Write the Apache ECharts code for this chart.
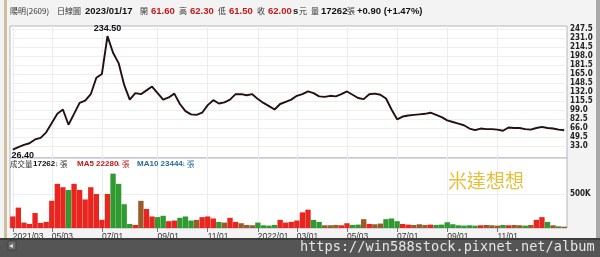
<!DOCTYPE html>
<html><head><meta charset="utf-8">
<script src="https://cdn.jsdelivr.net/npm/echarts@6/dist/echarts.min.js"></script>
<style>html,body{margin:0;padding:0;background:#f3f3f3;}#c{width:600px;height:257px;}</style>
</head><body><div id="c"></div>
<script>
// weekly samples (category index = week)
const weeks = Array.from({length: 100}, (_, i) => String(i));
const prices = [26.4,31,35,38,45,48,58,75,92,100,
  72,92,112,116,128,158,165,234.5,204,185,
  145,118,130,128,135,142,130,118,122,129,
  110,97,91,90,94,108,117,111,113,118,
  128,128,126,128,119,112,106,100,110,114,
  118,125,128,133,130,124,123,125,124,128,
  133,127,121,119,128,129,127,120,100,82,
  87,89,90,91,92,94,90,86,80,77,
  74,71,65,62,65,64,64,63,61,67,
  66,66,64,63,66,68,66,65,63,62];
const volumes = [170000,300000,80000,60000,220000,75000,90000,400000,650000,600000,
  560000,650000,560000,420000,600000,500000,120000,500000,800000,650000,
  350000,60000,45000,400000,280000,170000,160000,180000,100000,110000,
  150000,170000,110000,120000,160000,170000,140000,90000,80000,150000,
  90000,70000,45000,40000,80000,40000,35000,45000,120000,80000,
  90000,110000,230000,270000,120000,90000,40000,40000,45000,40000,
  70000,45000,50000,130000,60000,55000,65000,130000,140000,100000,
  60000,50000,45000,55000,45000,50000,45000,50000,85000,55000,
  40000,35000,40000,35000,40000,45000,40000,35000,45000,40000,
  45000,40000,35000,45000,120000,160000,90000,40000,25000,20000];
const priceTicks = [33.0,49.5,66.0,82.5,99.0,115.5,132.0,148.5,165.0,181.5,198.0,214.5,231.0,247.5];
const volTicks = [500000];
const volTickLabels = ['500K'];
const dateTickIndex = [0,7,16,26,35,44,51,60,69,78,87];
const dateTickLabels = ['2021/03','05/03','07/01','09/01','11/01','2022/01','03/01','05/03','07/01','09/01','11/01'];

const RED = '#e8261f', GREEN = '#2f9a2f', BROWN = '#9a5b2a';
const volData = volumes.map((v, i) => {
  const ch = i === 0 ? 1 : prices[i] / prices[i - 1] - 1;
  const c = ch > 0.02 ? RED : (ch < -0.02 ? GREEN : BROWN);
  return { value: v, itemStyle: { color: c } };
});
const isTick = (idx) => dateTickIndex.indexOf(idx) >= 0;
const tickLabelOf = (idx) => dateTickLabels[dateTickIndex.indexOf(idx)];

const chart = echarts.init(document.getElementById('c'), null, {renderer: 'canvas'});
const hdrFont = "'Noto Sans CJK TC', 'Noto Sans CJK SC', sans-serif";
const numFont = "'Liberation Sans', Arial, sans-serif";
function t(x, y, text, fill, size, weight, font, z) {
  return { type: 'text', x: x, y: y, z: z || 10,
    style: { text: text, fill: fill, fontSize: size, fontWeight: weight || 'normal', fontFamily: font || hdrFont, textVerticalAlign: 'middle' } };
}
const graphics = [
  { type: 'rect', shape: {x: 4, y: 0, width: 3, height: 238}, style: {fill: '#cdbf9c'}, z: 1 },
  { type: 'rect', shape: {x: 596, y: 0, width: 4, height: 238}, style: {fill: '#a8a8a8'}, z: 1 },
  // header
  t(10, 11, '陽明(2609)', '#333', 8),
  t(57, 11, '日線圖', '#333', 8),
  t(85, 11, '2023/01/17', '#111', 9.5, 'bold', numFont),
  t(140, 11, '開', '#333', 8),
  t(151, 11, '61.60', '#c41818', 9.5, 'bold', numFont),
  t(179, 11, '高', '#333', 8),
  t(190, 11, '62.30', '#c41818', 9.5, 'bold', numFont),
  t(218, 11, '低', '#333', 8),
  t(229, 11, '61.50', '#c41818', 9.5, 'bold', numFont),
  t(257, 11, '收', '#333', 8),
  t(268, 11, '62.00', '#c41818', 9.5, 'bold', numFont),
  t(293, 11, 's', '#111', 9.5, 'bold', numFont),
  t(299, 11, '元', '#333', 8),
  t(311, 11, '量', '#333', 8),
  t(321, 11, '17262', '#111', 9.5, 'bold', numFont),
  t(347, 11, '張', '#333', 8),
  t(357, 11, '+0.90 (+1.47%)', '#111', 9.5, 'bold', numFont),
  // volume legend
  t(10, 164, '成交量', '#333', 7.5),
  t(33, 164, '17262', '#111', 8, 'bold', numFont),
  t(55, 164, '↓', '#c41818', 7.5, 'bold', numFont),
  t(60, 164, '張', '#333', 7.5),
  t(77, 164, 'MA5 22280', '#c41818', 8, 'bold', numFont),
  t(117, 164, '↓', '#c41818', 7.5, 'bold', numFont),
  t(122, 164, '張', '#c41818', 7.5),
  t(137, 164, 'MA10 23444', '#2a6a9a', 8, 'bold', numFont),
  t(182, 164, '↓', '#2a6a9a', 7.5, 'bold', numFont),
  t(187, 164, '張', '#2a6a9a', 7.5),
  // watermark
  t(448, 181, '米達想想', '#e3bf3a', 19, 'normal', "'Noto Sans CJK TC', sans-serif"),
  // bottom bar
  { type: 'rect', shape: {x: 0, y: 238, width: 600, height: 19}, style: {fill: '#555'}, z: 50 },
  { type: 'rect', shape: {x: 0, y: 238, width: 600, height: 2}, style: {fill: '#3c3c3c'}, z: 51 },
  { type: 'rect', shape: {x: 8, y: 241, width: 8, height: 9}, style: {fill: '#6c6c6c', stroke: '#444', lineWidth: 1}, z: 51 },
  t(9, 245.5, '◂', '#ddd', 8, 'normal', "'DejaVu Sans', sans-serif", 52),
  t(300, 247.5, 'https://win588stock.pixnet.net/album', '#e6e6e6', 13.6, 'normal', "'DejaVu Sans Mono', monospace", 52)
];

const option = {
  animation: false,
  backgroundColor: '#f3f3f3',
  graphic: graphics,
  grid: [
    { left: 10, top: 26, width: 557, height: 132, show: true, backgroundColor: '#fff', borderColor: '#b9b2c6', borderWidth: 1 },
    { left: 10, top: 158, width: 557, height: 70, show: true, backgroundColor: '#fff', borderColor: '#b9b2c6', borderWidth: 1 }
  ],
  xAxis: [
    { type: 'category', gridIndex: 0, data: weeks, boundaryGap: true,
      axisLine: {show: false}, axisTick: {show: false}, axisLabel: {show: false},
      splitLine: {show: true, interval: (i) => isTick(i), alignWithLabel: true, lineStyle: {color: '#ececec', width: 1}} },
    { type: 'category', gridIndex: 1, data: weeks, boundaryGap: true,
      axisLine: {show: false},
      axisTick: {show: true, interval: (i) => isTick(i), alignWithLabel: true, length: 4, lineStyle: {color: '#777'}},
      axisLabel: {show: true, interval: (i) => isTick(i), formatter: (v, i) => tickLabelOf(i) || '', align: 'left', margin: 4,
        fontSize: 8.5, color: '#333', fontFamily: numFont},
      splitLine: {show: true, interval: (i) => isTick(i), alignWithLabel: true, lineStyle: {color: '#ececec', width: 1}} }
  ],
  yAxis: [
    { type: 'value', gridIndex: 0, position: 'right', min: 11, max: 253,
      axisLine: {show: false}, axisTick: {show: false, customValues: priceTicks},
      axisLabel: {customValues: priceTicks, formatter: (v) => v.toFixed(1), margin: 3, fontSize: 8, fontWeight: 'bold', color: '#222',
        fontFamily: "'Liberation Sans Narrow', 'DejaVu Sans Condensed', 'Liberation Sans', sans-serif"},
      splitLine: {show: true, lineStyle: {color: '#eeeeee', width: 1}} },
    { type: 'value', gridIndex: 1, position: 'right', min: 0, max: 1030000,
      axisLine: {show: false}, axisTick: {show: false, customValues: volTicks},
      axisLabel: {customValues: volTicks, formatter: (v) => volTickLabels[volTicks.indexOf(v)] || '', margin: 3, fontSize: 8, fontWeight: 'bold', color: '#222',
        fontFamily: "'Liberation Sans Narrow', 'DejaVu Sans Condensed', 'Liberation Sans', sans-serif"},
      splitLine: {show: true, lineStyle: {color: '#eeeeee', width: 1}} }
  ],
  series: [
    { type: 'line', xAxisIndex: 0, yAxisIndex: 0, data: prices, symbol: 'none', z: 5,
      lineStyle: {color: '#241010', width: 1.9},
      markPoint: {
        symbol: 'circle', symbolSize: 1, itemStyle: {color: 'rgba(0,0,0,0)'},
        data: [
          {type: 'max', label: {show: true, position: 'top', distance: 3, formatter: (p) => p.value.toFixed(2), fontSize: 9, fontWeight: 'bold', color: '#111', fontFamily: numFont}},
          {type: 'min', label: {show: true, position: 'bottom', distance: 1, offset: [10, 0], formatter: (p) => p.value.toFixed(2), fontSize: 9, fontWeight: 'bold', color: '#111', fontFamily: numFont}}
        ]
      } },
    { type: 'bar', xAxisIndex: 1, yAxisIndex: 1, data: volData, barCategoryGap: '4%', z: 5 }
  ]
};
chart.setOption(option);
</script></body></html>
